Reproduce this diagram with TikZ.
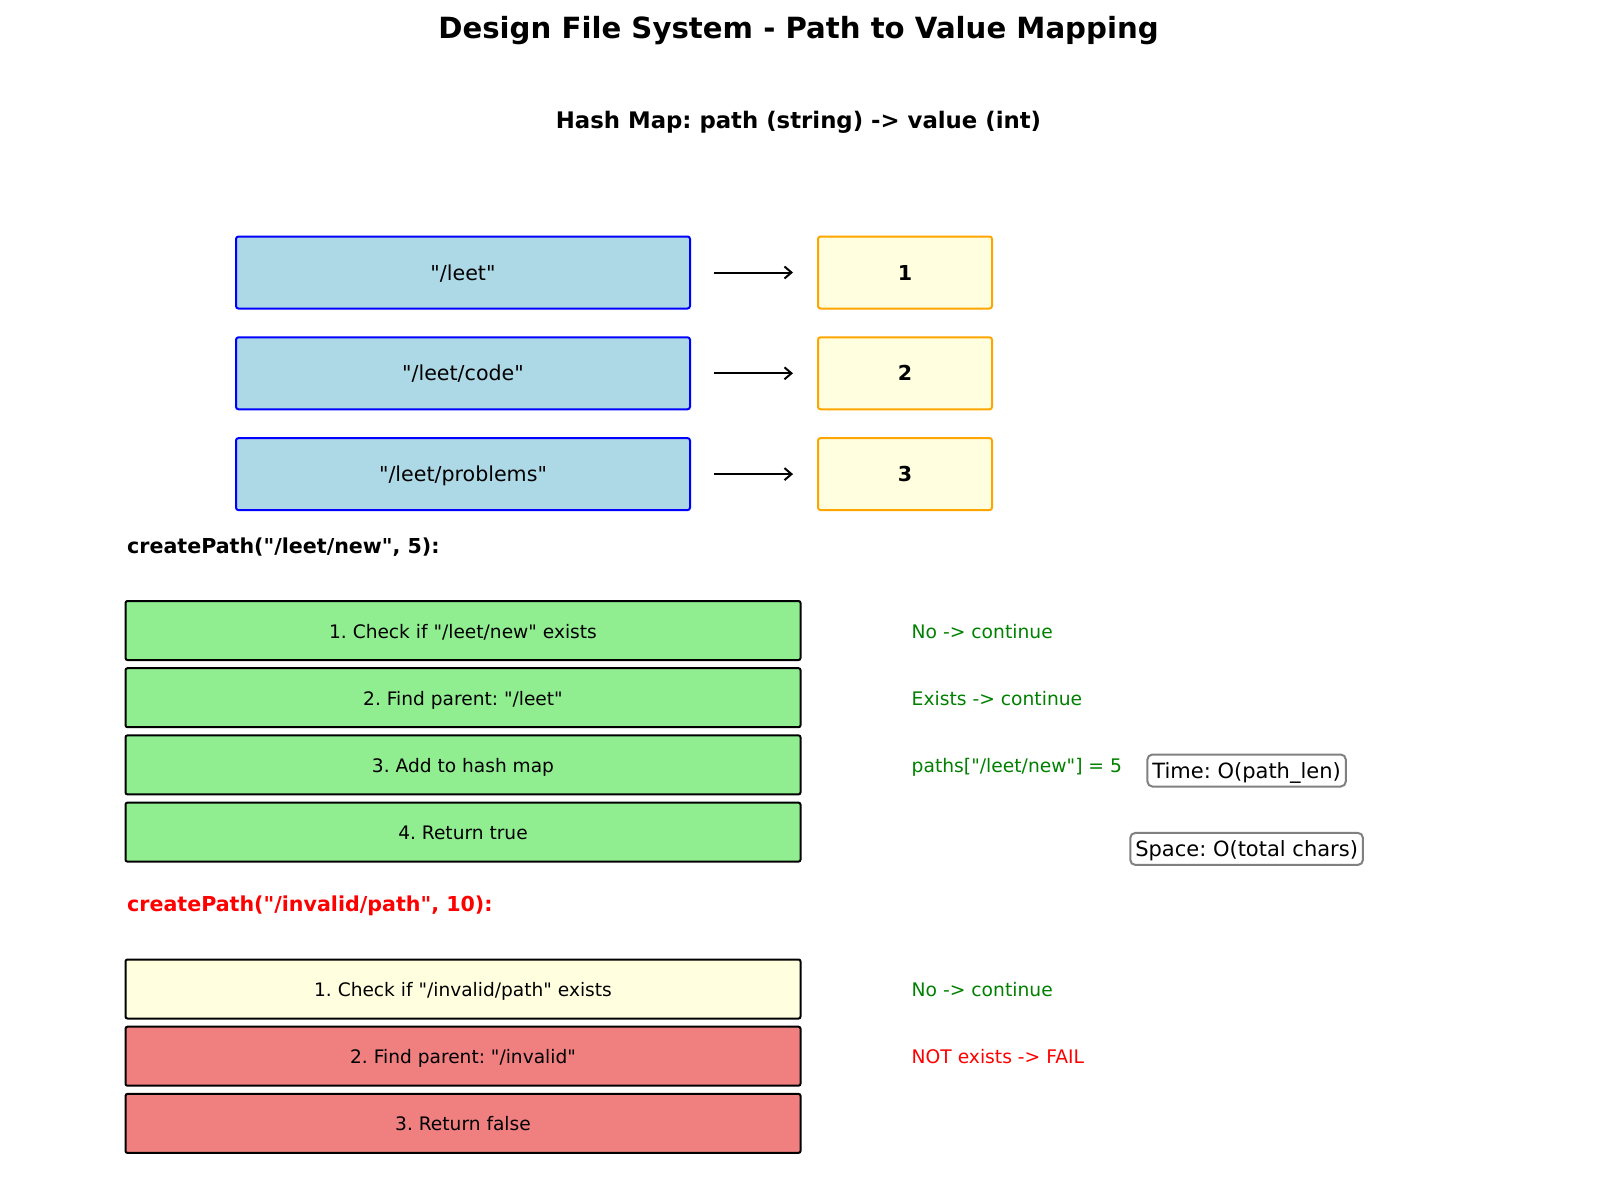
\documentclass[tikz,border=0pt]{standalone}
\usepackage{fontspec}
\setmainfont{DejaVu Sans}[Ligatures=TeXOff]
\usetikzlibrary{arrows.meta}
\frenchspacing
\definecolor{keyfill}{HTML}{ADD8E6}
\definecolor{keyline}{HTML}{0000FF}
\definecolor{valfill}{HTML}{FFFFE0}
\definecolor{valline}{HTML}{FFA500}
\definecolor{okfill}{HTML}{90EE90}
\definecolor{badfill}{HTML}{F08080}
\definecolor{oktext}{HTML}{008000}
\definecolor{badtext}{HTML}{FF0000}
\definecolor{noteline}{HTML}{808080}
\newcommand{\fs}[1]{\fontsize{#1}{#1}\selectfont}
\tikzset{
  keybox/.style={text height=17pt, text depth=1.7pt, draw=keyline, fill=keyfill,
    line width=2, rounded corners=2.5, minimum width=454, minimum height=72,
    inner sep=0, font=\fs{20.6}},
  valbox/.style={text height=17pt, text depth=1.7pt, draw=valline, fill=valfill,
    line width=2, rounded corners=2.5, minimum width=174, minimum height=72,
    inner sep=0, font=\bfseries\fs{20.6}},
  stepbox/.style={text height=16pt, text depth=1pt, draw=black, line width=2,
    rounded corners=2, minimum width=675, minimum height=59, inner sep=0,
    font=\fs{18.6}},
  steplabel/.style={text height=16pt, text depth=1pt, anchor=west, inner sep=0,
    font=\fs{18.7}},
  heading/.style={anchor=west, inner sep=0, font=\bfseries\fs{20.6}},
  notebox/.style={text height=18pt, text depth=3pt, draw=noteline, fill=white,
    line width=2, rounded corners=5, inner xsep=5, inner ysep=5.5, font=\fs{21}},
  maparrow/.style={line width=2, -{Straight Barb[length=7, width=12, line width=2]},
    shorten <=23, shorten >=24}
}
\begin{document}
\begin{tikzpicture}[x=1pt, y=-1pt]
\useasboundingbox (0,0) rectangle (1597,1184);

% titles
\node[inner sep=0, font=\bfseries\fs{29.2}] (title) at (798.5,30.5) {Design File System - Path to Value Mapping};
\node[inner sep=0, font=\bfseries\fs{22.8}] (subtitle) at (798.5,122.5) {Hash Map: path (string) -> value (int)};

% hash map entries
\node[keybox] (k1) at (463,272.5) {"/leet"};
\node[keybox] (k2) at (463,373.3) {"/leet/code"};
\node[keybox] (k3) at (463,474.1) {"/leet/problems"};
\node[valbox] (v1) at (905,272.5) {1};
\node[valbox] (v2) at (905,373.3) {2};
\node[valbox] (v3) at (905,474.1) {3};
\draw[maparrow] (k1) -- (v1);
\draw[maparrow] (k2) -- (v2);
\draw[maparrow] (k3) -- (v3);

% successful createPath
\node[heading] (h1) at (127,547) {createPath("/leet/new", 5):};
\node[stepbox, fill=okfill] (a1) at (463,630.5) {1. Check if "/leet/new" exists};
\node[stepbox, fill=okfill] (a2) at (463,697.7) {2. Find parent: "/leet"};
\node[stepbox, fill=okfill] (a3) at (463,764.9) {3. Add to hash map};
\node[stepbox, fill=okfill] (a4) at (463,832.1) {4. Return true};
\node[steplabel, text=oktext] (r1) at (911.5,630.5) {No -> continue};
\node[steplabel, text=oktext] (r2) at (911.5,697.7) {Exists -> continue};
\node[steplabel, text=oktext] (r3) at (911.5,764.9) {paths["/leet/new"] = 5};

% complexity notes
\node[notebox] (time) at (1246.6,770.5) {Time: O(path\_len)};
\node[notebox] (space) at (1246.6,848.9) {Space: O(total chars)};

% failing createPath
\node[heading, text=badtext] (h2) at (127,905.4) {createPath("/invalid/path", 10):};
\node[stepbox, fill=valfill] (b1) at (463,989) {1. Check if "/invalid/path" exists};
\node[stepbox, fill=badfill] (b2) at (463,1056.2) {2. Find parent: "/invalid"};
\node[stepbox, fill=badfill] (b3) at (463,1123.4) {3. Return false};
\node[steplabel, text=oktext] (s1) at (911.5,989) {No -> continue};
\node[steplabel, text=badtext] (s2) at (911.5,1056.2) {NOT exists -> FAIL};
\end{tikzpicture}
\end{document}
